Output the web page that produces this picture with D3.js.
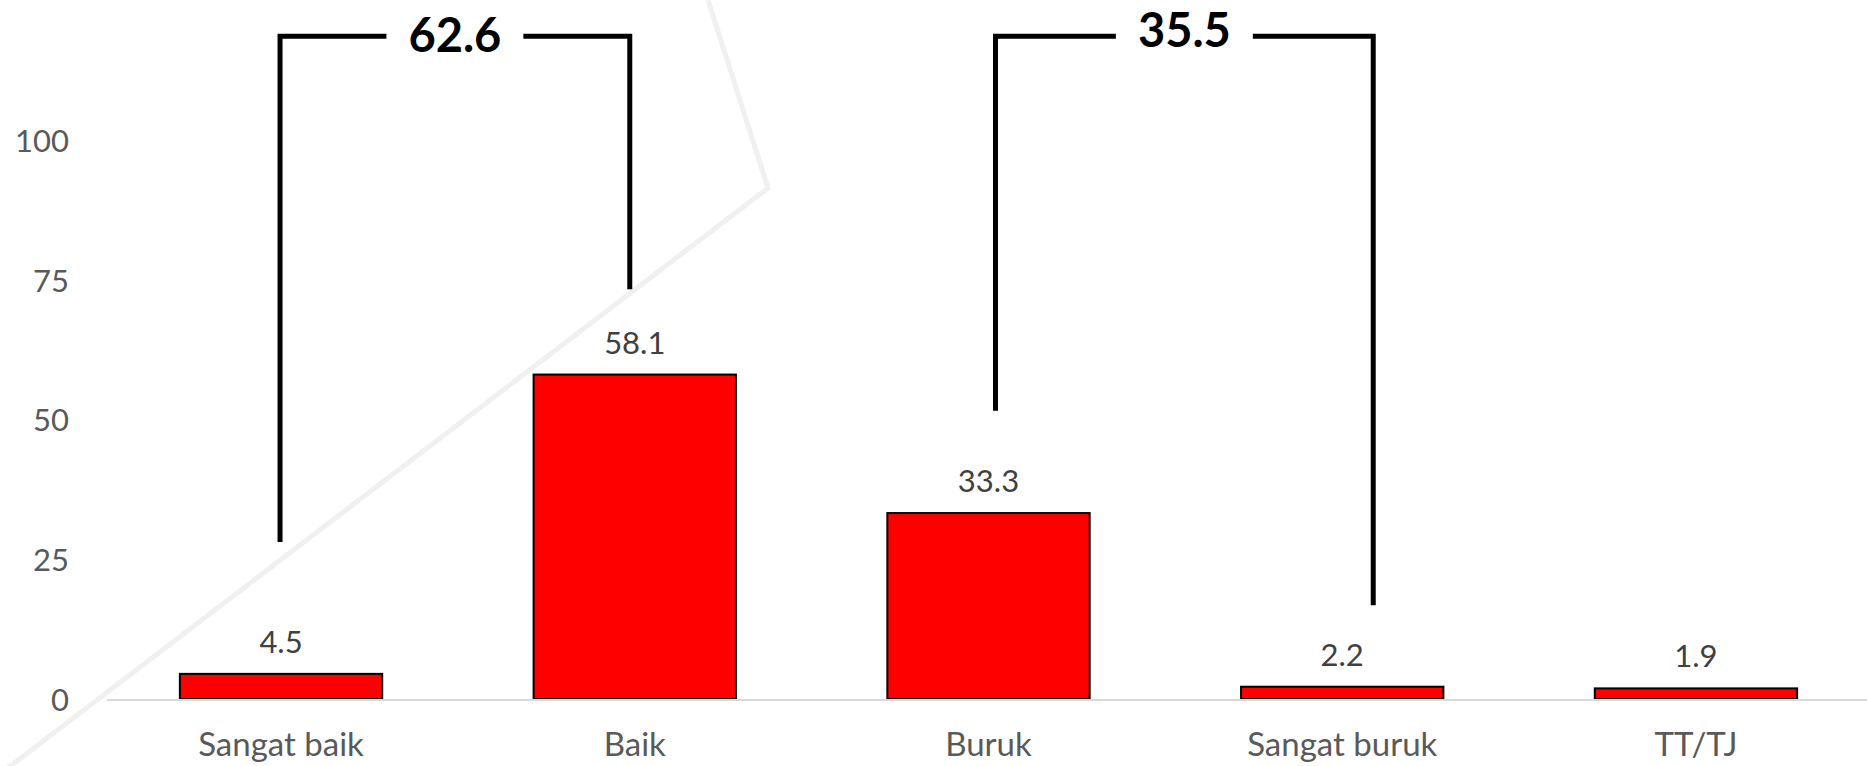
<!DOCTYPE html>
<html>
<head>
<meta charset="utf-8">
<script src="https://cdn.jsdelivr.net/npm/d3@7"></script>
<style>
  html, body { margin: 0; padding: 0; background: #fff; overflow: hidden; }
  text { font-family: Lato, "Open Sans", sans-serif; }
</style>
</head>
<body>
<script>
// data
const categories = ['Sangat baik', 'Baik', 'Buruk', 'Sangat buruk', 'TT/TJ'];
const values = [4.5, 58.1, 33.3, 2.2, 1.9];
const yTicks = [0, 25, 50, 75, 100];

// grouped totals: categories joined, total shown, where each leg ends (in y units)
const groupFrom = ['Sangat baik', 'Buruk'];
const groupTo = ['Baik', 'Sangat buruk'];
const groupTotals = [62.6, 35.5];
const groupLegFrom = [28.1, 51.6];
const groupLegTo = [73.4, 16.8];
const groupTop = 118.7;

const W = 1867, H = 766;
const margin = { top: 1, right: -3, bottom: 67, left: 107 };

const svg = d3.select('body')
  .append('svg')
  .attr('width', W)
  .attr('height', H);

// faint watermark strokes behind the chart
svg.append('path')
  .attr('d', 'M708,0 L768,188 L0,774')
  .attr('fill', 'none')
  .attr('stroke', '#f0f0f0')
  .attr('stroke-width', 5);

const x = d3.scaleBand()
  .domain(categories)
  .range([margin.left, W - margin.right])
  .paddingInner(0.428)
  .paddingOuter(0.206);

const y = d3.scaleLinear()
  .domain([0, 125])
  .range([H - margin.bottom, margin.top]);

// y axis labels only
const yAxis = svg.append('g')
  .attr('transform', 'translate(69,0)')
  .call(d3.axisLeft(y).tickValues(yTicks).tickSize(0).tickPadding(0));
yAxis.select('.domain').remove();
yAxis.selectAll('text')
  .attr('fill', '#595959')
  .style('font-size', '31px')
  .attr('dy', '0.36em');

// bars
svg.append('g')
  .selectAll('rect')
  .data(values)
  .enter()
  .append('rect')
  .attr('x', (d, i) => x(categories[i]))
  .attr('y', d => y(d))
  .attr('width', x.bandwidth())
  .attr('height', d => y(0) - y(d))
  .attr('fill', '#ff0000')
  .attr('stroke', '#000')
  .attr('stroke-width', 2);

// baseline
svg.append('line')
  .attr('x1', margin.left)
  .attr('x2', W)
  .attr('y1', y(0) + 1)
  .attr('y2', y(0) + 1)
  .attr('stroke', '#d9d9d9')
  .attr('stroke-width', 2);

// value labels
svg.append('g')
  .selectAll('text')
  .data(values)
  .enter()
  .append('text')
  .attr('x', (d, i) => x(categories[i]) + x.bandwidth() / 2)
  .attr('y', d => y(d) - 21)
  .attr('text-anchor', 'middle')
  .attr('fill', '#404040')
  .style('font-size', '31px')
  .text(d => d.toFixed(1));

// category labels (kept just inside the bottom edge)
svg.append('g')
  .selectAll('text')
  .data(categories)
  .enter()
  .append('text')
  .attr('x', d => x(d) + x.bandwidth() / 2)
  .attr('y', 756)
  .attr('text-anchor', 'middle')
  .attr('fill', '#595959')
  .style('font-size', '33px')
  .text(d => d);

// brackets with totals
const legShift = [[-1, -5], [7, 31]];
const labelShift = [0, -5];
const gB = svg.append('g');
groupTotals.forEach((t, i) => {
  const x1 = x(groupFrom[i]) + x.bandwidth() / 2 + legShift[i][0];
  const x2 = x(groupTo[i]) + x.bandwidth() / 2 + legShift[i][1];
  const yt = y(groupTop);
  const lbl = gB.append('text')
    .attr('x', (x1 + x2) / 2)
    .attr('y', yt + 16 + labelShift[i])
    .attr('text-anchor', 'middle')
    .attr('fill', '#000')
    .style('font-size', '47px')
    .style('font-weight', 'bold')
    .text(t.toFixed(1));
  const bb = lbl.node().getBBox();
  const gap = 22;
  gB.append('path')
    .attr('d', `M${x1},${y(groupLegFrom[i])} L${x1},${yt} L${bb.x - gap},${yt}`)
    .attr('fill', 'none')
    .attr('stroke', '#000')
    .attr('stroke-width', 5);
  gB.append('path')
    .attr('d', `M${bb.x + bb.width + gap},${yt} L${x2},${yt} L${x2},${y(groupLegTo[i])}`)
    .attr('fill', 'none')
    .attr('stroke', '#000')
    .attr('stroke-width', 5);
});
</script>
</body>
</html>
